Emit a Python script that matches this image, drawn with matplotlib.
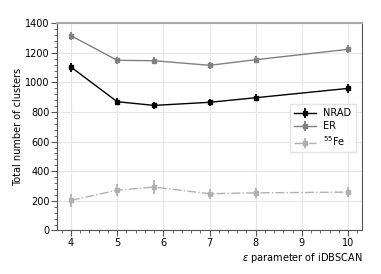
import matplotlib
matplotlib.use("Agg")
import matplotlib.pyplot as plt
from matplotlib.ticker import MultipleLocator

# epsilon values scanned
eps = [4, 5, 5.8, 7, 8, 10]

nrad = [1104, 870, 845, 866, 897, 960]
nrad_err = [30, 25, 25, 25, 25, 28]

er = [1316, 1150, 1147, 1116, 1154, 1224]
er_err = [28, 25, 25, 25, 25, 28]

fe = [203, 272, 293, 248, 254, 259]
fe_err = [45, 40, 45, 35, 35, 35]

fig = plt.figure(figsize=(3.81, 2.74), dpi=100)
ax = fig.add_axes([0.15, 0.159, 0.80, 0.756])

ax.errorbar(eps, nrad, yerr=nrad_err, color="black", marker="s", markersize=3,
            lw=1.0, elinewidth=1.3, label="NRAD")
ax.errorbar(eps, er, yerr=er_err, color="#808080", marker="s", markersize=3,
            lw=1.0, elinewidth=1.3, label="ER")
ax.errorbar(eps, fe, yerr=fe_err, color="#b0b0b0", marker="s", markersize=3,
            lw=1.0, elinewidth=1.3, ls="-.", label=r"$^{55}$Fe")

ax.set_xlim(3.7, 10.3)
ax.set_ylim(0, 1400)
ax.xaxis.set_major_locator(MultipleLocator(1))
ax.xaxis.set_minor_locator(MultipleLocator(0.2))
ax.yaxis.set_major_locator(MultipleLocator(200))
ax.yaxis.set_minor_locator(MultipleLocator(40))
ax.tick_params(which="major", length=4, direction="out", labelsize=7, pad=1.5,
               color="#555555")
ax.tick_params(which="minor", length=2.2, direction="out", color="#555555")
ax.grid(color="#e6e6e6", lw=0.8)
ax.set_axisbelow(True)

ax.spines["top"].set_color("#aaaaaa")
ax.spines["top"].set_linewidth(1.5)
ax.spines["right"].set_color("#555555")
ax.spines["left"].set_color("#555555")
ax.spines["bottom"].set_color("#555555")

ax.set_xlabel(r"$\epsilon$ parameter of iDBSCAN", fontsize=7, loc="right", labelpad=2)
ax.set_ylabel("Total number of clusters", fontsize=7, labelpad=1.5)

ax.legend(loc="upper right", bbox_to_anchor=(0.98, 0.61), borderaxespad=0,
          fontsize=7, frameon=True, fancybox=False, edgecolor="#dddddd",
          handlelength=2.2, labelspacing=0.3, borderpad=0.45)

fig.savefig("out.png", dpi=100)
